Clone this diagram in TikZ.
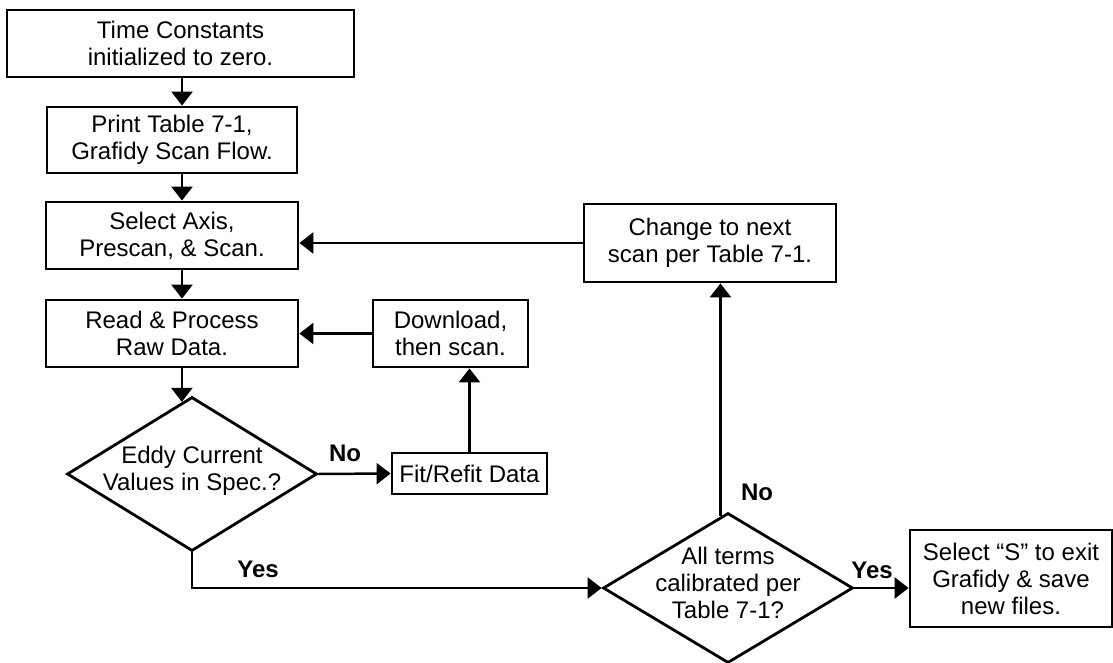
\documentclass[tikz,border=0pt]{standalone}
\usepackage{fontspec}
\setmainfont{Liberation Sans}
\usetikzlibrary{arrows.meta,shapes.geometric}

\begin{document}
\begin{tikzpicture}[x=0.5pt,y=-0.5pt,->,>={Triangle[width=10.5pt,length=7pt]},line width=1.25pt,
    box/.style={shape=rectangle,draw=black,line width=1.4pt,inner sep=0pt,align=center,font=\fontsize{12}{13.5}\selectfont},
    dec/.style={shape=diamond,draw=black,line width=1.4pt,inner sep=0pt,minimum width=125pt},
    txt/.style={align=center,font=\fontsize{12}{13.5}\selectfont},
    ans/.style={font=\fontsize{12}{13.5}\selectfont\bfseries}]
                \useasboundingbox (0, 0) rectangle (1113, 663);
                \coordinate (lane) at (182, 0);
                \node[box,minimum width=173.5pt,minimum height=33.5pt](b1)at(180.5, 43.5){Time Constants\\initialized to zero.};
                \node[box,minimum width=125pt,minimum height=33pt](b2)at(172, 140){Print Table 7-1,\\Grafidy Scan Flow.};
                \node[box,minimum width=126pt,minimum height=33.5pt](b3)at(172, 235.5){Select Axis,\\Prescan, \& Scan.};
                \node[box,minimum width=126pt,minimum height=33.5pt](b4)at(172, 333.5){Read \& Process\\Raw Data.};
                \node[box,minimum width=77.5pt,minimum height=33.5pt](dl)at(450.5, 333.5){Download,\\then scan.};
                \node[box,minimum width=77.5pt,minimum height=20.5pt](fit)at(469.5, 473.5){Fit/Refit Data};
                \node[box,minimum width=126pt,minimum height=39pt](chg)at(710, 243){Change to next\\scan per Table 7-1.};
                \node[box,minimum width=101pt,minimum height=48.5pt](sel)at(1011, 578.5){Select “S” to exit\\Grafidy \& save\\new files.};

                \node[dec,minimum height=77pt](d1)at(192, 474){};
                \node[txt](d1t)at(192, 471){Eddy Current\\Values in Spec.?};
                \node[dec,minimum height=75pt](d2)at(728, 588){};
                \node[txt](d2t)at(728, 583){All terms\\calibrated per\\Table 7-1?};

                \node[ans](no1)at(345, 453){No};
                \node[ans](yes1)at(258, 569){Yes};
                \node[ans](no2)at(757, 492){No};
                \node[ans](yes2)at(872, 570){Yes};

                \path[] (b1.south -| lane) edge (b2.north -| lane)
                (b2.south -| lane) edge (b3.north -| lane)
                (b3.south -| lane) edge (b4.north -| lane)
                (b4.south -| d1.98) edge (d1.98);
                \path[] (d1.east) edge (fit.west)
                (fit.north) edge (fit.north |- dl.south)
                (dl.west) edge (dl.west -| b4.east);
                \draw[] (d1.south) |- (d2.west);
                \path[] (d2.96) edge (d2.96 |- chg.south)
                (chg.west) edge (chg.west -| b3.east)
                (d2.east) edge (d2.east -| sel.west);
            \end{tikzpicture}
\end{document}
